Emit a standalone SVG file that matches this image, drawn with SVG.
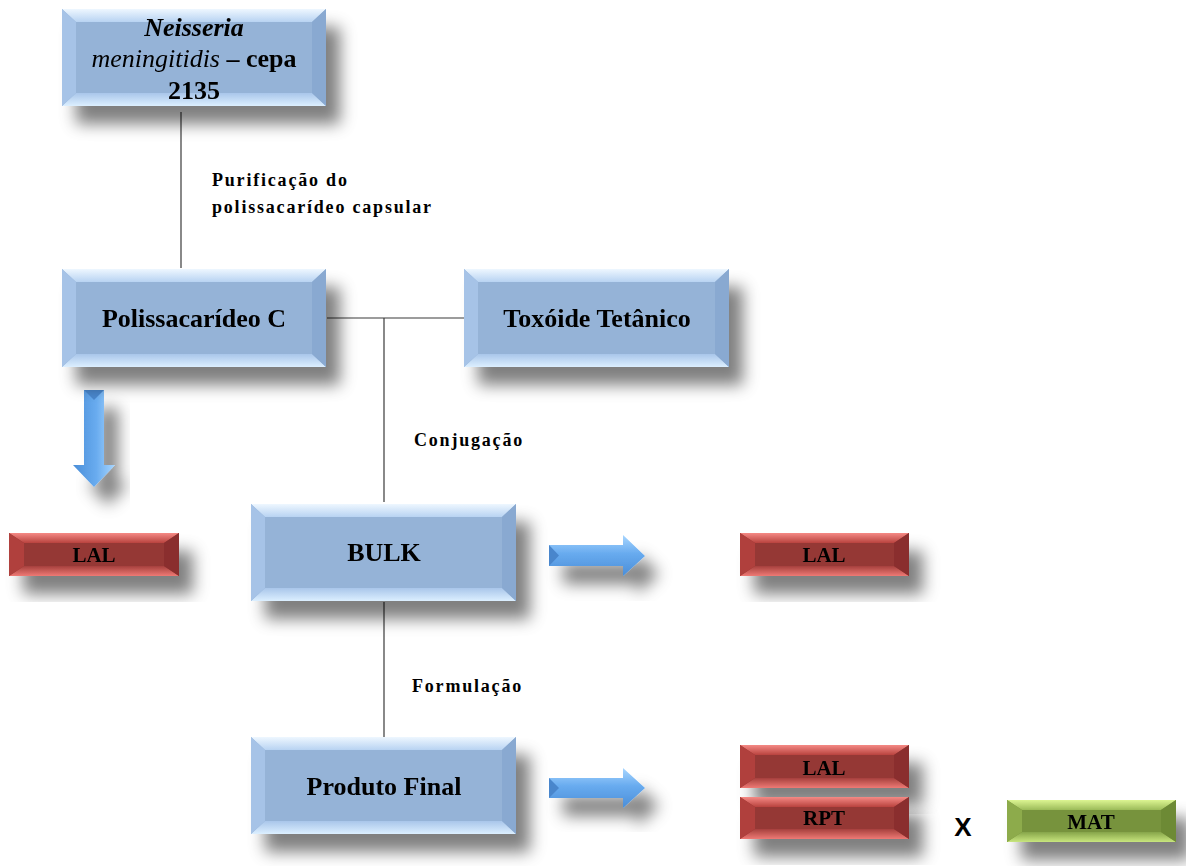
<svg xmlns="http://www.w3.org/2000/svg" width="1186" height="866" viewBox="0 0 1186 866">
<defs>
<filter id="sh" x="-25%" y="-40%" width="160%" height="200%">
<feGaussianBlur in="SourceAlpha" stdDeviation="8"/>
<feOffset dx="14" dy="18" result="b"/>
<feFlood flood-color="#000" flood-opacity="0.5"/>
<feComposite in2="b" operator="in"/>
<feMerge><feMergeNode/><feMergeNode in="SourceGraphic"/></feMerge>
</filter>
<linearGradient id="bTop" x1="0" y1="0" x2="0" y2="1"><stop offset="0" stop-color="#eef7ff"/><stop offset="1" stop-color="#b8d3f2"/></linearGradient>
<linearGradient id="bBot" x1="0" y1="0" x2="0" y2="1"><stop offset="0" stop-color="#a9c6ea"/><stop offset="1" stop-color="#dcefff"/></linearGradient>
<linearGradient id="rTop" x1="0" y1="0" x2="0" y2="1"><stop offset="0" stop-color="#f58a85"/><stop offset="1" stop-color="#b9423f"/></linearGradient>
<linearGradient id="rBot" x1="0" y1="0" x2="0" y2="1"><stop offset="0" stop-color="#a6403d"/><stop offset="1" stop-color="#ee7a75"/></linearGradient>
<linearGradient id="gTop" x1="0" y1="0" x2="0" y2="1"><stop offset="0" stop-color="#dcf592"/><stop offset="1" stop-color="#9bbb59"/></linearGradient>
<linearGradient id="gBot" x1="0" y1="0" x2="0" y2="1"><stop offset="0" stop-color="#86a54a"/><stop offset="1" stop-color="#c8e67e"/></linearGradient>
<linearGradient id="arH" x1="0" y1="0" x2="0" y2="1"><stop offset="0" stop-color="#a8d6ff"/><stop offset="0.45" stop-color="#68abef"/><stop offset="1" stop-color="#4b8ed8"/></linearGradient>
<linearGradient id="arV" x1="0" y1="0" x2="1" y2="0"><stop offset="0" stop-color="#4b8ed8"/><stop offset="0.55" stop-color="#68abef"/><stop offset="1" stop-color="#a8d6ff"/></linearGradient>
</defs>
<style>
.t{font-family:"Liberation Serif","Times New Roman",serif;font-weight:bold;fill:#000;text-anchor:middle}
.big{font-size:26px}
.sm{font-size:21px}
.lbl{font-family:"Liberation Serif","Times New Roman",serif;font-weight:bold;font-size:18px;letter-spacing:1.8px;fill:#000}
.ln{stroke:#3a3a3a;stroke-width:1.2;fill:none}
.bf{fill:#95b3d7}.bl{fill:#a6c3e7}.br{fill:#89a9d1}
.rf{fill:#953735}.rl{fill:#b0403d}.rr{fill:#8a2f2d}
.gf{fill:#77933c}.gl{fill:#8dab4b}.gr{fill:#6d8a34}
</style>

<g id="connectors">
<line class="ln" x1="181" y1="112" x2="181" y2="268"/>
<line class="ln" x1="327" y1="318" x2="464" y2="318"/>
<line class="ln" x1="384" y1="318" x2="384" y2="502"/>
<line class="ln" x1="384" y1="602" x2="384" y2="737"/>
<text class="lbl" x="212" y="186">Purificação do</text>
<text class="lbl" x="212" y="213">polissacarídeo capsular</text>
<text class="lbl" x="414" y="446">Conjugação</text>
<text class="lbl" x="412" y="692">Formulação</text>
<g filter="url(#sh)">
<polygon fill="url(#arV)" points="84,390 104,390 104,465 115,465 94,487 73,465 84,465"/>
<polygon fill="#4a86cc" points="84,390 104,390 94,400"/>
</g>
<g filter="url(#sh)">
<polygon fill="url(#arH)" points="549,545 623,545 623,535 645,556 623,576 623,566 549,566"/>
<polygon fill="#4a86cc" points="549,545 559,555.5 549,566"/>
</g>
<g filter="url(#sh)">
<polygon fill="url(#arH)" points="549,778 623,778 623,768 645,788 623,808 623,798 549,798"/>
<polygon fill="#4a86cc" points="549,778 559,788 549,798"/>
</g>
</g>

<g id="n-neisseria" filter="url(#sh)">
<rect class="bf" x="62" y="9" width="264" height="97"/>
<polygon fill="url(#bTop)" points="62,9 326,9 312,22 76,22"/>
<polygon fill="url(#bBot)" points="62,106 326,106 312,93 76,93"/>
<polygon class="bl" points="62,9 76,22 76,93 62,106"/>
<polygon class="br" points="326,9 312,22 312,93 326,106"/>
<text class="t big" x="194" y="36" font-style="italic" font-weight="normal" font-size="24">Neisseria</text>
<text class="t big" x="194" y="67" font-size="24"><tspan font-style="italic" font-weight="normal">meningitidis</tspan>  – cepa</text>
<text class="t big" x="194" y="99" font-size="24">2135</text>
</g>

<g id="n-polissacarideo" filter="url(#sh)">
<rect class="bf" x="62" y="269" width="264" height="98"/>
<polygon fill="url(#bTop)" points="62,269 326,269 312,282 76,282"/>
<polygon fill="url(#bBot)" points="62,367 326,367 312,354 76,354"/>
<polygon class="bl" points="62,269 76,282 76,354 62,367"/>
<polygon class="br" points="326,269 312,282 312,354 326,367"/>
<text class="t big" x="194" y="327">Polissacarídeo C</text>
</g>

<g id="n-toxoide" filter="url(#sh)">
<rect class="bf" x="464" y="269" width="265" height="98"/>
<polygon fill="url(#bTop)" points="464,269 729,269 715,282 478,282"/>
<polygon fill="url(#bBot)" points="464,367 729,367 715,354 478,354"/>
<polygon class="bl" points="464,269 478,282 478,354 464,367"/>
<polygon class="br" points="729,269 715,282 715,354 729,367"/>
<text class="t big" x="597" y="327">Toxóide Tetânico</text>
</g>

<g id="n-bulk" filter="url(#sh)">
<rect class="bf" x="251" y="504" width="265" height="97"/>
<polygon fill="url(#bTop)" points="251,504 516,504 502,517 265,517"/>
<polygon fill="url(#bBot)" points="251,601 516,601 502,588 265,588"/>
<polygon class="bl" points="251,504 265,517 265,588 251,601"/>
<polygon class="br" points="516,504 502,517 502,588 516,601"/>
<text class="t big" x="384" y="561">BULK</text>
</g>

<g id="n-produto" filter="url(#sh)">
<rect class="bf" x="251" y="737" width="265" height="97"/>
<polygon fill="url(#bTop)" points="251,737 516,737 502,750 265,750"/>
<polygon fill="url(#bBot)" points="251,834 516,834 502,821 265,821"/>
<polygon class="bl" points="251,737 265,750 265,821 251,834"/>
<polygon class="br" points="516,737 502,750 502,821 516,834"/>
<text class="t big" x="384" y="795">Produto Final</text>
</g>

<g id="n-lal1" filter="url(#sh)">
<rect class="rf" x="9" y="533" width="170" height="43"/>
<polygon fill="url(#rTop)" points="9,533 179,533 164,543 24,543"/>
<polygon fill="url(#rBot)" points="9,576 179,576 164,566 24,566"/>
<polygon class="rl" points="9,533 24,543 24,566 9,576"/>
<polygon class="rr" points="179,533 164,543 164,566 179,576"/>
<text class="t sm" x="94" y="562">LAL</text>
</g>

<g id="n-lal2" filter="url(#sh)">
<rect class="rf" x="740" y="533" width="169" height="43"/>
<polygon fill="url(#rTop)" points="740,533 909,533 894,543 755,543"/>
<polygon fill="url(#rBot)" points="740,576 909,576 894,566 755,566"/>
<polygon class="rl" points="740,533 755,543 755,566 740,576"/>
<polygon class="rr" points="909,533 894,543 894,566 909,576"/>
<text class="t sm" x="824" y="562">LAL</text>
</g>

<g id="n-lal3" filter="url(#sh)">
<rect class="rf" x="740" y="745" width="169" height="43"/>
<polygon fill="url(#rTop)" points="740,745 909,745 894,755 755,755"/>
<polygon fill="url(#rBot)" points="740,788 909,788 894,778 755,778"/>
<polygon class="rl" points="740,745 755,755 755,778 740,788"/>
<polygon class="rr" points="909,745 894,755 894,778 909,788"/>
<text class="t sm" x="824" y="775">LAL</text>
</g>

<g id="n-rpt" filter="url(#sh)">
<rect class="rf" x="740" y="797" width="169" height="42"/>
<polygon fill="url(#rTop)" points="740,797 909,797 894,807 755,807"/>
<polygon fill="url(#rBot)" points="740,839 909,839 894,829 755,829"/>
<polygon class="rl" points="740,797 755,807 755,829 740,839"/>
<polygon class="rr" points="909,797 894,807 894,829 909,839"/>
<text class="t sm" x="824" y="825">RPT</text>
</g>

<g id="n-x">
<text x="963" y="836" font-family="Liberation Sans,Arial,sans-serif" font-weight="bold" font-size="26" text-anchor="middle">X</text>
</g>

<g id="n-mat" filter="url(#sh)">
<rect class="gf" x="1007" y="800" width="169" height="42"/>
<polygon fill="url(#gTop)" points="1007,800 1176,800 1161,810 1022,810"/>
<polygon fill="url(#gBot)" points="1007,842 1176,842 1161,832 1022,832"/>
<polygon class="gl" points="1007,800 1022,810 1022,832 1007,842"/>
<polygon class="gr" points="1176,800 1161,810 1161,832 1176,842"/>
<text class="t sm" x="1091" y="829">MAT</text>
</g>
</svg>
